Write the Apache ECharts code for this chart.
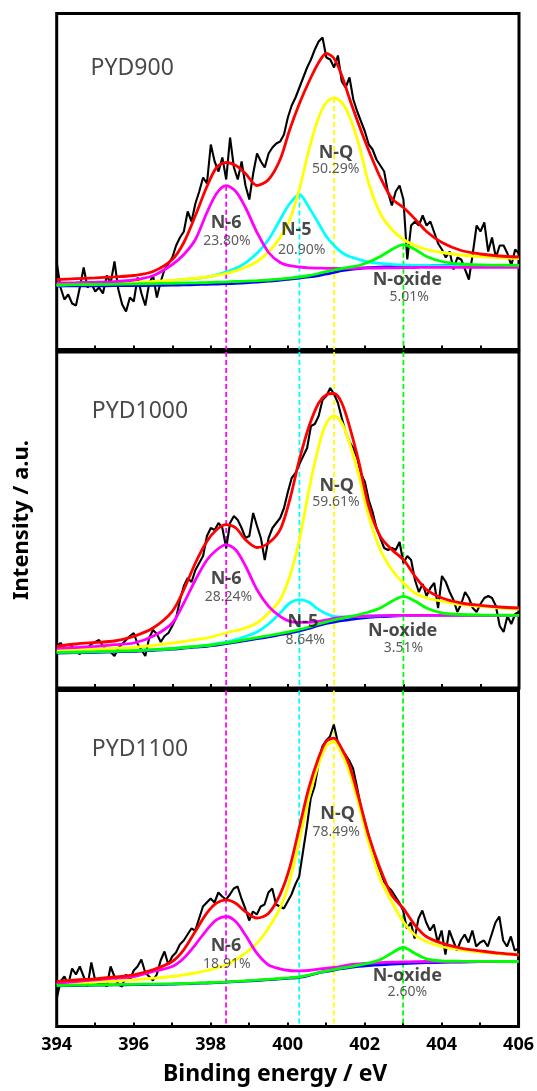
<!DOCTYPE html>
<html><head><meta charset="utf-8">
<script src="https://cdn.jsdelivr.net/npm/echarts@6/dist/echarts.min.js"></script>
<style>html,body{margin:0;padding:0;background:#fff}#c{width:537px;height:1091px}</style>
</head><body><div id="c"></div>
<script>
// ---------- DATA ----------
const sampleNames = ['PYD900', 'PYD1000', 'PYD1100'];
const componentNames = ['N-6', 'N-5', 'N-Q', 'N-oxide'];
const peakEnergies = [398.4, 400.3, 401.2, 403.0];
const pct1 = ['23.80%', '20.90%', '50.29%', '5.01%'];
const pct2 = ['28.24%', '8.64%', '59.61%', '3.51%'];
const pct3 = ['18.91%', '', '78.49%', '2.60%'];
const xTicks = [394, 396, 398, 400, 402, 404, 406];

// energies of fitted-curve samples (eV)
const fitX = [394, 394.5, 395, 395.5, 396, 396.5, 397, 397.3, 397.6, 397.9, 398.15, 398.4, 398.65, 398.9, 399.2, 399.5, 399.8, 400.05, 400.3, 400.55, 400.8, 401.0, 401.2, 401.4, 401.6, 401.85, 402.1, 402.4, 402.7, 403.0, 403.3, 403.6, 404, 404.5, 405, 405.5, 406];

// PYD900
const base1 = [63.5, 63.6, 63.7, 63.8, 63.9, 64.1, 64.4, 64.6, 64.9, 65.2, 65.5, 65.8, 66.2, 66.7, 67.4, 68.3, 69.3, 70.4, 71.5, 72.6, 74, 75.5, 77, 78.8, 80, 81, 81.8, 82.4, 82.9, 83.3, 83.5, 83.7, 83.8, 83.8, 83.8, 83.8, 83.8];
const n6_1 = [66.5, 66.8, 67.2, 67.9, 69.5, 73.7, 85, 95, 110, 137, 156, 163.8, 158, 142, 117, 97, 87, 83.8, 82.5, 81.7, 81.4, 81.2, 81.2, 81.2, 81.2, 81.3, 81.4, 81.5, 81.6, 81.8, 82, 82.1, 82.2, 82.2, 82.2, 82.2, 82.2];
const n5_1 = [64.5, 64.8, 65.2, 65.7, 66.4, 67.4, 68.9, 70, 71, 72.4, 74.7, 77.7, 81.2, 86.7, 96.2, 110, 130, 146, 155, 142, 126, 113, 104, 97, 93, 90, 87.5, 86.2, 85.2, 84.6, 84.2, 84, 83.8, 83.6, 83.5, 83.4, 83.4];
const nq_1 = [64.7, 65.2, 65.7, 66.2, 67, 68, 69.2, 70.2, 71.2, 72.5, 74.2, 76.2, 78.7, 82.2, 88, 97.5, 112, 130, 160.5, 200, 232, 247, 251.5, 247, 233, 204, 166, 136, 120, 110, 104, 100, 97, 94.5, 92.8, 91.7, 91];
const nox_1 = [64.7, 64.9, 65.1, 65.3, 65.6, 65.9, 66.2, 66.4, 66.7, 67, 67.3, 67.6, 68, 68.4, 68.9, 69.5, 70.3, 71.3, 72.5, 74, 76, 77.8, 79.5, 81, 82.3, 84, 87.5, 93, 100, 104.8, 100, 93, 88, 85.5, 84.6, 84.3, 84.2];
const env1 = [70, 70.8, 71.6, 72.6, 74, 78, 90, 107, 134, 163, 182, 187, 184, 176, 164, 170, 190, 220, 246, 268, 287, 296, 291, 274, 251, 224, 199, 172, 151, 142, 130.5, 118, 107, 99, 95.5, 93.5, 92.5];

// PYD1000
const base2 = [35, 35.3, 35.7, 36.2, 36.7, 37.7, 38.8, 39.8, 40.8, 41.7, 43, 44.3, 45.8, 47.5, 49.3, 51.2, 53.3, 55, 57, 59.5, 62.5, 64.5, 66, 67.3, 68.3, 69.6, 70.6, 71.5, 72, 72.3, 72.5, 72.7, 72.7, 72.7, 72.7, 72.7, 72.7];
const n6_2 = [39.7, 40.5, 41.7, 43.3, 45, 51.7, 65, 85, 108, 128, 138, 143.3, 138, 122, 98.3, 81.7, 71.7, 66.7, 65.7, 65.7, 66.7, 68, 69.5, 70.5, 71.2, 71.7, 72, 72.3, 72.5, 72.6, 72.7, 72.7, 72.7, 72.7, 72.7, 72.7, 72.7];
const n5_2 = [35.7, 36, 36.4, 36.9, 37.4, 38.4, 39.5, 40.5, 41.6, 42.8, 44.3, 46, 48.5, 51.5, 56, 64, 75, 85, 88.3, 85.7, 78.3, 74.3, 71.7, 71, 71.2, 71.7, 72, 72.2, 72.4, 72.5, 72.6, 72.7, 72.7, 72.7, 72.7, 72.7, 72.7];
const nq_2 = [37.3, 38.2, 39, 39.8, 40.7, 42.5, 45, 46.5, 48.3, 50, 52.5, 55, 57.5, 60, 65, 75, 88.3, 111.7, 148.3, 198.3, 241.7, 265, 272.3, 265, 245, 211.7, 171.7, 138.3, 118.3, 105, 95, 90, 86.7, 83.3, 81.7, 80, 79];
const nox_2 = [35.7, 36, 36.4, 36.9, 37.4, 38.4, 39.5, 40.5, 41.5, 42.5, 43.8, 45.2, 46.7, 48.4, 50.3, 52.3, 54.5, 56.3, 58.5, 61, 64, 66.2, 68, 69.7, 71.3, 73.5, 76, 80, 86.7, 91.7, 87, 80, 75, 73.5, 73, 72.8, 72.7];
const env2 = [41.7, 44, 45.5, 47, 51.7, 60, 76.7, 98.3, 125, 146.7, 158.3, 163.3, 160, 148.3, 140.5, 145, 158.3, 188.3, 228.3, 261.7, 285, 293.3, 294.5, 285, 261.7, 225, 181.7, 151.7, 138.3, 128.3, 111.7, 98.3, 90, 85, 82.7, 81, 80];

// PYD1100
const base3 = [40.7, 41, 41.3, 41.6, 41.9, 42.1, 42.3, 42.7, 43.1, 43.5, 43.9, 44.3, 44.8, 45.3, 46, 46.8, 47.6, 48.3, 49, 51, 53.5, 55, 56.5, 57.8, 59, 60.2, 61, 61.7, 62.3, 62.9, 63.4, 63.8, 64.2, 64.5, 64.8, 65, 65];
const n6_3 = [43.3, 45, 46.7, 48.3, 50, 55, 60, 68.3, 81.7, 96.7, 106.7, 110, 105, 91.7, 73.3, 61.7, 57.7, 56, 55.7, 56, 57.3, 58.2, 59, 60.2, 61.7, 62.5, 63.3, 63.8, 64.3, 64.6, 64.8, 65, 65, 65, 65, 65, 65];
const nq_3 = [42.3, 43.3, 44.3, 45.5, 46.7, 48.3, 50, 51.7, 53.5, 56, 58.7, 61.7, 66.7, 73.3, 83.3, 98.3, 118.3, 145, 185, 228.3, 261.7, 280, 285, 273.3, 255, 221.7, 185, 148.3, 125, 105, 91.7, 85, 80, 76.7, 74.3, 72.7, 71.7];
const nox_3 = [41, 41.3, 41.6, 41.9, 42.2, 42.4, 42.7, 43, 43.4, 43.8, 44.2, 44.6, 45.1, 45.7, 46.4, 47.2, 48, 48.7, 49.5, 51.5, 53.8, 55.3, 56.9, 58.3, 59.6, 61.3, 63.3, 66.7, 73.3, 79, 73.3, 67.7, 65.7, 65.3, 65.1, 65, 65];
const env3 = [45, 46.5, 47.7, 49.5, 51.7, 56.7, 65, 76.7, 95, 113.3, 123.3, 126.7, 123.3, 115, 108.5, 113, 131.7, 158.3, 198.3, 238.3, 268.3, 285, 288.3, 278.3, 261.7, 228.3, 191.7, 158.3, 131.7, 118.3, 101.7, 90, 83.3, 78.3, 75.7, 73.3, 71.7];

// measured spectra, one reading every 0.1 eV from 394.0 to 406.0
const rawStart = 394.0, rawStep = 0.1;
const raw1 = [87, 62, 50, 55, 46, 44, 62, 82, 62, 66,
  58, 62, 56, 74, 66, 88, 60, 45, 38, 52,
  48, 72, 56, 44, 66, 74, 52, 68, 80, 86,
  92, 104, 112, 118, 138, 128, 146, 158, 172, 166,
  205, 188, 178, 192, 170, 212, 182, 170, 188, 164,
  150, 176, 196, 188, 182, 196, 202, 206, 208, 215,
  232, 244, 252, 262, 272, 282, 290, 300, 308, 312,
  292, 290, 282, 294, 268, 262, 272, 250, 238, 228,
  218, 205, 200, 190, 184, 178, 157, 144, 158, 164,
  150, 90, 124, 128, 124, 134, 124, 128, 117, 106,
  100, 92, 98, 80, 92, 90, 80, 70, 96, 124,
  118, 127, 98, 112, 92, 104, 104, 96, 84, 100,
  96];
const raw2 = [42, 45, 40, 38, 42, 36, 34, 38, 40, 44,
  46, 48, 42, 38, 36, 32, 40, 44, 48, 52,
  55, 44, 38, 32, 50, 58, 54, 46, 52, 55,
  62, 70, 88, 102, 110, 106, 118, 125, 132, 152,
  160, 158, 165, 160, 140, 165, 172, 168, 160, 150,
  152, 175, 162, 150, 128, 150, 160, 165, 170, 180,
  196, 210, 215, 224, 232, 240, 262, 264, 272, 288,
  292, 300, 294, 285, 270, 256, 246, 240, 230, 214,
  206, 188, 176, 160, 150, 140, 138, 140, 138, 146,
  125, 132, 128, 108, 96, 104, 92, 100, 105, 80,
  112, 106, 96, 88, 76, 84, 96, 90, 80, 76,
  84, 90, 92, 90, 82, 62, 56, 72, 64, 74,
  76];
const raw3 = [28, 45, 50, 42, 58, 52, 60, 50, 40, 64,
  46, 42, 44, 40, 60, 50, 42, 40, 52, 46,
  56, 60, 67, 54, 50, 46, 52, 66, 75, 62,
  70, 74, 82, 86, 92, 98, 96, 108, 120, 124,
  128, 124, 134, 130, 127, 132, 138, 140, 128, 118,
  106, 115, 112, 120, 122, 134, 138, 122, 120, 118,
  125, 132, 142, 150, 175, 200, 228, 240, 262, 280,
  286, 290, 302, 285, 276, 272, 266, 258, 240, 220,
  206, 192, 178, 164, 156, 145, 140, 136, 130, 124,
  116, 98, 104, 88, 108, 116, 104, 96, 102, 84,
  96, 72, 96, 86, 76, 86, 92, 84, 96, 80,
  84, 86, 80, 92, 104, 110, 86, 80, 90, 76,
  78];

// ---------- LAYOUT / STYLE ----------
const FONT = '"Noto Sans", "DejaVu Sans", sans-serif';
const Y_MAX = 336;
const gridTops = [13.5, 352, 690.5];
const GRID_H = 336;
const compColors = ['#ff00ff', '#00ffff', '#ffff00', '#00ff00'];
// label anchors [energy, intensity] per panel: title, then name/pct for each component
const labelPos = [
  { title: [394.88, 281], names: [[398.4, 126.5], [400.22, 119.5], [401.25, 196.5], [403.1, 69.5]], pcts: [[398.42, 108.5], [400.36, 99.5], [401.24, 180.5], [403.15, 52.8]] },
  { title: [394.91, 276.5], names: [[398.4, 109.5], [400.39, 66], [401.27, 202.5], [402.98, 57.5]], pcts: [[398.46, 91], [400.45, 47.5], [401.25, 186], [403.0, 40]] },
  { title: [394.91, 277.5], names: [[398.4, 81], null, [401.3, 212.5], [403.11, 51]], pcts: [[398.42, 62.5], null, [401.26, 194.5], [403.11, 34.5]] }
];

const panels = [
  { raw: raw1, base: base1, comps: [n6_1, n5_1, nq_1, nox_1], env: env1, pct: pct1 },
  { raw: raw2, base: base2, comps: [n6_2, n5_2, nq_2, nox_2], env: env2, pct: pct2 },
  { raw: raw3, base: base3, comps: [n6_3, null, nq_3, nox_3], env: env3, pct: pct3 }
];

const pair = (xs, ys) => ys.map((y, i) => [xs[i], y]);

const grids = [], xAxes = [], yAxes = [], series = [];
panels.forEach((p, i) => {
  grids.push({ left: 56.7, right: 18, top: gridTops[i], height: GRID_H, show: true, borderColor: '#000', borderWidth: 3, backgroundColor: 'transparent' });
  xAxes.push({
    type: 'value', gridIndex: i, min: 394, max: 406, interval: 1,
    axisLine: { show: false },
    axisTick: { show: true, inside: true, length: 4, lineStyle: { color: '#000', width: 2 } },
    splitLine: { show: false },
    axisLabel: {
      show: i === 2, margin: 9, color: '#000', fontSize: 18, fontWeight: 'bold', fontFamily: FONT,
      formatter: v => (xTicks.indexOf(v) >= 0 ? String(v) : '')
    }
  });
  yAxes.push({
    type: 'value', gridIndex: i, min: 0, max: Y_MAX,
    axisLine: { show: false }, axisTick: { show: false }, axisLabel: { show: false }, splitLine: { show: false },
    name: i === 1 ? 'Intensity / a.u.' : '', nameLocation: 'middle', nameGap: 24, nameRotate: 90,
    nameTextStyle: { fontSize: 22, fontWeight: 'bold', color: '#000', fontFamily: FONT }
  });
  const common = { type: 'line', xAxisIndex: i, yAxisIndex: i, showSymbol: false, symbol: 'none', silent: true, animation: false };
  // dashed position guides
  peakEnergies.forEach((e, k) => {
    const top = i === 0 ? Math.max.apply(null, panels[0].comps[k]) : Y_MAX;
    series.push(Object.assign({}, common, { z: 1, data: [[e, top], [e, 0]], lineStyle: { color: compColors[k], width: 1.8, type: [5, 3] } }));
  });
  // measured spectrum
  series.push(Object.assign({}, common, { z: 2, data: p.raw.map((v, j) => [rawStart + j * rawStep, v]), lineStyle: { color: '#000', width: 2.1 } }));
  // background
  series.push(Object.assign({}, common, { z: 3, smooth: 0.3, data: pair(fitX, p.base), lineStyle: { color: '#0000ff', width: 2.8 } }));
  // components: draw order cyan, yellow, magenta, green
  [1, 2, 0, 3].forEach(k => {
    if (!p.comps[k]) return;
    series.push(Object.assign({}, common, { z: 4, smooth: 0.3, data: pair(fitX, p.comps[k]), lineStyle: { color: compColors[k], width: 2.8 } }));
  });
  // envelope
  series.push(Object.assign({}, common, { z: 5, smooth: 0.3, data: pair(fitX, p.env), lineStyle: { color: '#ff0000', width: 2.8 } }));
  // labels
  const lp = labelPos[i];
  const labelData = [{ value: lp.title, label: { show: true, position: 'right', distance: 0, formatter: sampleNames[i], fontSize: 23, color: '#1a1a1a', fontFamily: FONT } }];
  componentNames.forEach((nm, k) => {
    if (!lp.names[k]) return;
    labelData.push({ value: lp.names[k], label: { show: true, position: 'inside', formatter: nm, fontSize: 18, fontWeight: 'bold', color: '#1a1a1a', fontFamily: FONT } });
    labelData.push({ value: lp.pcts[k], label: { show: true, position: 'inside', formatter: p.pct[k], fontSize: 14, color: '#333', fontFamily: FONT } });
  });
  series.push({ type: 'scatter', xAxisIndex: i, yAxisIndex: i, symbolSize: 0, silent: true, animation: false, z: 10, data: labelData });
});

const chart = echarts.init(document.getElementById('c'), null, { renderer: 'canvas' });
chart.setOption({
  backgroundColor: '#fff',
  animation: false,
  grid: grids, xAxis: xAxes, yAxis: yAxes, series: series,
  graphic: [{ type: 'text', left: 163, top: 1063, style: { text: 'Binding energy / eV', font: 'bold 23px ' + FONT, fill: '#000' } }]
});
</script></body></html>
